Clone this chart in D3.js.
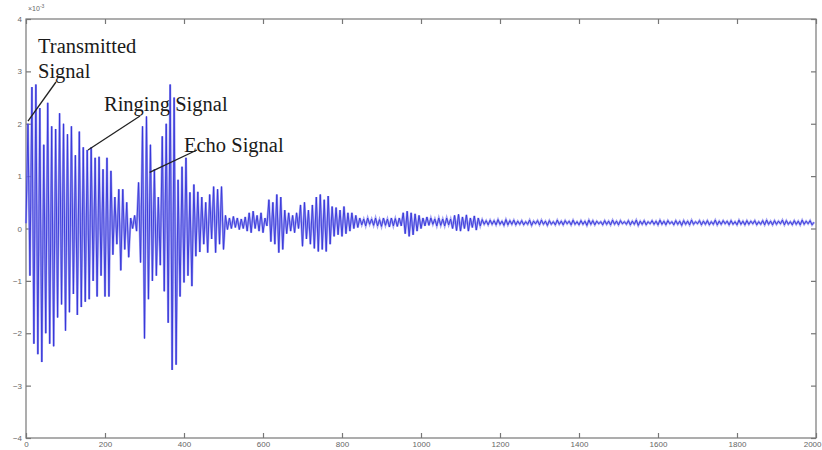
<!DOCTYPE html>
<html><head><meta charset="utf-8">
<script src="https://cdn.jsdelivr.net/npm/d3@7/dist/d3.min.js"></script>
<style>body{margin:0;background:#fff}svg{display:block}</style>
</head><body>
<svg id="c" width="822" height="450"></svg>
<script>
// amplitude (x10^-3), one value every 5 samples
const sampleStep = 5;
const signal = [
0.1, 2.0, -0.9, 2.7, -2.2, 2.75, -2.4, 2.3, -2.55, 1.6,
-2.0, 2.4, -2.2, 1.95, -2.25, 1.9, -1.7, 2.2, -1.45, 2.0,
-1.95, 1.8, -1.6, 1.95, -1.25, 1.4, -1.65, 1.85, -1.5, 1.55,
-1.4, 1.5, -1.35, 1.55, -1.0, 1.35, -1.3, 1.37, -0.9, 1.13,
-1.3, 1.35, -1.3, 1.1, -0.5, 0.6, -0.3, 0.75, -0.8, 0.75,
-0.4, 0.5, -0.55, 0.2, 0.0, 0.25, -0.05, 0.88, -0.65, 1.95,
-2.1, 2.14, -1.35, 1.6, -1.0, 1.13, -0.9, 0.6, -0.7, 1.76,
-1.2, 2.0, -1.8, 2.75, -2.7, 2.5, -2.6, 0.93, -1.3, 1.18,
-1.03, 1.35, -0.9, 0.69, -1.1, 0.84, -0.53, 0.7, -0.45, 0.6,
-0.3, 0.5, -0.46, 0.65, -0.2, 0.8, -0.46, 0.75, -0.3, 0.8,
-0.4, 0.25, -0.02, 0.2, 0.0, 0.23, 0.02, 0.2, -0.02, 0.18,
0.0, 0.22, -0.05, 0.3, -0.08, 0.33, 0.0, 0.25, -0.05, 0.3,
-0.08, 0.2, 0.05, 0.55, -0.25, 0.5, -0.3, 0.65, -0.46, 0.6,
-0.4, 0.35, -0.1, 0.3, -0.05, 0.25, -0.08, 0.3, 0.0, 0.45,
-0.34, 0.5, -0.2, 0.35, -0.3, 0.45, -0.38, 0.6, -0.44, 0.65,
-0.4, 0.55, -0.44, 0.62, -0.3, 0.42, -0.15, 0.4, -0.12, 0.35,
-0.15, 0.42, -0.1, 0.3, -0.05, 0.3, 0.0, 0.25, 0.02, 0.2,
0.07, 0.18, 0.05, 0.2, 0.08, 0.18, 0.06, 0.2, 0.05, 0.17,
0.04, 0.2, 0.06, 0.18, 0.03, 0.2, 0.05, 0.19, 0.04, 0.2,
0.05, 0.3, -0.1, 0.33, -0.15, 0.3, -0.12, 0.28, -0.05, 0.25,
0.0, 0.2, 0.05, 0.22, 0.06, 0.2, 0.08, 0.18, 0.05, 0.2,
0.06, 0.18, 0.05, 0.2, 0.07, 0.18, 0.0, 0.25, -0.04, 0.27,
-0.05, 0.22, 0.0, 0.26, -0.05, 0.2, 0.02, 0.24, -0.03, 0.2,
0.05, 0.17, 0.08, 0.15, 0.07, 0.16, 0.08, 0.15, 0.07, 0.17,
0.08, 0.14, 0.06, 0.17, 0.07, 0.15, 0.08, 0.16, 0.07, 0.14,
0.08, 0.15, 0.07, 0.13, 0.08, 0.16, 0.06, 0.14, 0.09, 0.15,
0.07, 0.16, 0.08, 0.14, 0.06, 0.15, 0.08, 0.13, 0.07, 0.16,
0.08, 0.14, 0.07, 0.15, 0.09, 0.14, 0.07, 0.16, 0.08, 0.13,
0.07, 0.15, 0.08, 0.14, 0.06, 0.16, 0.08, 0.15, 0.07, 0.14,
0.09, 0.13, 0.07, 0.15, 0.08, 0.14, 0.07, 0.16, 0.08, 0.14,
0.07, 0.15, 0.09, 0.13, 0.08, 0.15, 0.07, 0.14, 0.08, 0.16,
0.06, 0.14, 0.08, 0.15, 0.07, 0.13, 0.09, 0.15, 0.08, 0.14,
0.07, 0.16, 0.08, 0.14, 0.07, 0.15, 0.09, 0.13, 0.07, 0.15,
0.08, 0.14, 0.06, 0.15, 0.08, 0.14, 0.07, 0.16, 0.08, 0.13,
0.09, 0.15, 0.07, 0.14, 0.08, 0.15, 0.07, 0.13, 0.08, 0.16,
0.07, 0.14, 0.08, 0.15, 0.09, 0.14, 0.07, 0.15, 0.08, 0.13,
0.07, 0.16, 0.08, 0.14, 0.07, 0.15, 0.08, 0.14, 0.09, 0.15,
0.07, 0.13, 0.08, 0.15, 0.07, 0.16, 0.08, 0.14, 0.07, 0.15,
0.08, 0.14, 0.09, 0.16, 0.07, 0.15, 0.08, 0.13, 0.07, 0.15,
0.08, 0.14, 0.07, 0.16, 0.08, 0.14, 0.09, 0.15, 0.07, 0.12
];
const xTicks = [0, 200, 400, 600, 800, 1000, 1200, 1400, 1600, 1800, 2000];
const yTicks = [4, 3, 2, 1, 0, -1, -2, -3, -4];
const exponentLabel = "-3";
// annotations: text lines, anchor sample/value of the arrow tip
const annotations = [
  {lines: ["Transmitted", "Signal"], tip: [5, 2.05]},
  {lines: ["Ringing Signal"], tip: [157, 1.5]},
  {lines: ["Echo Signal"], tip: [313, 1.07]}
];

const svg = d3.select("#c");
const m = {l: 26, r: 6, t: 19, b: 12};
const W = 822, H = 450;
const x = d3.scaleLinear().domain([0, 2000]).range([m.l, W - m.r]);
const y = d3.scaleLinear().domain([-4, 4]).range([H - m.b, m.t]);
const axisColor = "#777";

// frame
svg.append("rect").attr("x", x(0)).attr("y", y(4))
  .attr("width", x(2000) - x(0)).attr("height", y(-4) - y(4))
  .attr("fill", "none").attr("stroke", axisColor).attr("stroke-width", 1.2);

function styleAxis(g) {
  g.select(".domain").remove();
  g.selectAll(".tick line").attr("stroke", axisColor).attr("stroke-width", 1.2);
  g.selectAll(".tick text").attr("fill", "#666").attr("font-family", "Liberation Sans, Arial, sans-serif").attr("font-size", 8);
}
svg.append("g").attr("transform", `translate(0,${y(-4)})`)
  .call(d3.axisBottom(x).tickValues(xTicks).tickSizeInner(-5).tickSizeOuter(0).tickPadding(3).tickFormat(d3.format("d")))
  .call(styleAxis)
  .call(g => g.selectAll(".tick text").filter(d => d === 2000).attr("text-anchor", "end").attr("dx", 5));
svg.append("g").attr("transform", `translate(0,${y(4)})`)
  .call(d3.axisTop(x).tickValues(xTicks).tickSizeInner(-5).tickSizeOuter(0).tickFormat(""))
  .call(styleAxis);
svg.append("g").attr("transform", `translate(${x(0)},0)`)
  .call(d3.axisLeft(y).tickValues(yTicks).tickSizeInner(-5).tickSizeOuter(0).tickPadding(4).tickFormat(d3.format("d")))
  .call(styleAxis);
svg.append("g").attr("transform", `translate(${x(2000)},0)`)
  .call(d3.axisRight(y).tickValues(yTicks).tickSizeInner(-5).tickSizeOuter(0).tickFormat(""))
  .call(styleAxis);

// exponent label
const ex = svg.append("text").attr("x", x(0) + 2).attr("y", y(4) - 8)
  .attr("font-family", "Liberation Sans, Arial, sans-serif").attr("font-size", 7).attr("fill", "#666");
ex.append("tspan").text("×10");
ex.append("tspan").attr("dy", -3).attr("font-size", 5).text(exponentLabel);

// signal
const line = d3.line().x((d, i) => x(i * sampleStep)).y(d => y(d));
svg.append("path").datum(signal).attr("d", line)
  .attr("fill", "none").attr("stroke", "#8c8cf0").attr("stroke-width", 2.2).attr("opacity", 0.8);
svg.append("path").datum(signal).attr("d", line)
  .attr("fill", "none").attr("stroke", "#3434d8").attr("stroke-width", 0.9);

// annotations
const textPos = [
  {x: 38, y: 53, lh: 25, from: [56, 82]},
  {x: 104, y: 111, lh: 0, from: [140, 116]},
  {x: 184, y: 152, lh: 0, from: [197, 150]}
];
annotations.forEach((a, k) => {
  const p = textPos[k];
  const t = svg.append("text").attr("font-family", "Liberation Serif, Times New Roman, serif")
    .attr("font-size", 20.5).attr("fill", "#1a1a1a");
  a.lines.forEach((s, j) => t.append("tspan").attr("x", p.x).attr("y", p.y + j * p.lh).text(s));
  svg.append("line").attr("x1", p.from[0]).attr("y1", p.from[1])
    .attr("x2", x(a.tip[0])).attr("y2", y(a.tip[1]))
    .attr("stroke", "#222").attr("stroke-width", 1.3);
});
</script>
</body></html>
